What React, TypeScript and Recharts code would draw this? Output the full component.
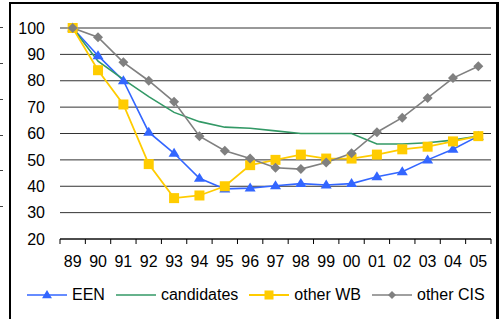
import React from "react"
import {LineChart, Line, XAxis, YAxis, CartesianGrid, Legend} from "recharts"

const years = ["89", "90", "91", "92", "93", "94", "95", "96", "97", "98", "99", "00", "01", "02", "03", "04", "05"]
const een = [100, 89.5, 80, 60.5, 52.5, 43, 39, 39.3, 40.2, 41, 40.5, 41, 43.6, 45.5, 50, 54, 59]
const candidates = [100, 87.4, 80.5, 74, 68, 64.5, 62.4, 62, 61, 60, 60, 60, 56, 56, 56.5, 57.5, 59]
const otherWB = [100, 84, 71, 48.4, 35.5, 36.5, 40, 48, 50, 52, 50.5, 50.5, 52, 54, 55, 57, 59]
const otherCIS = [100, 96.5, 87, 80, 72, 59, 53.5, 50.5, 47, 46.5, 49, 52.5, 60.5, 66, 73.5, 81, 85.5]
const yTicks = [20, 30, 40, 50, 60, 70, 80, 90, 100]

const seriesNames = ["EEN", "candidates", "other WB", "other CIS"]

const data = years.map((y, i) => ({
    year: y,
    "EEN": een[i],
    "candidates": candidates[i],
    "other WB": otherWB[i],
    "other CIS": otherCIS[i],
}))

const W = 500
const H = 319
const LEFT = 60
const RIGHT = 9
const FONT = "'Liberation Sans', Arial, sans-serif"

type Shape = "triangle" | "none" | "square" | "diamond"

const series: {name: string, color: string, shape: Shape, width: number}[] = [
    {name: seriesNames[0], color: "#3366FF", shape: "triangle", width: 1.6},
    {name: seriesNames[1], color: "#339966", shape: "none", width: 1.6},
    {name: seriesNames[2], color: "#FFCC00", shape: "square", width: 1.8},
    {name: seriesNames[3], color: "#808080", shape: "diamond", width: 1.6},
]

const Marker = ({shape, cx, cy, color, s = 1}: {shape: Shape, cx: number, cy: number, color: string, s?: number}) => {
    if (shape === "triangle") {
        const pts = `${cx},${cy - 5.5 * s} ${cx + 5.5 * s},${cy + 3.5 * s} ${cx - 5.5 * s},${cy + 3.5 * s}`
        return <polygon points={pts} fill={color} />
    }
    if (shape === "square") {
        return <rect x={cx - 5 * s} y={cy - 5 * s} width={10 * s} height={10 * s} fill={color} />
    }
    if (shape === "diamond") {
        const pts = `${cx},${cy - 5 * s} ${cx + 5 * s},${cy} ${cx},${cy + 5 * s} ${cx - 5 * s},${cy}`
        return <polygon points={pts} fill={color} />
    }
    return null
}

const XTick = (props: any) => {
    const {x, y, payload, index} = props
    const bw = (W - LEFT - RIGHT) / years.length
    return (
        <g>
            <line x1={x - bw / 2} y1={y} x2={x - bw / 2} y2={y + 5} stroke="#000" />
            {index === years.length - 1 && <line x1={x + bw / 2} y1={y} x2={x + bw / 2} y2={y + 5} stroke="#000" />}
            <text x={x} y={y + 28} textAnchor="middle" fontSize={16} fontFamily={FONT} fill="#000">{payload.value}</text>
        </g>
    )
}

const LegendContent = () => (
    <div style={{display: "flex", alignItems: "center", fontFamily: FONT, fontSize: 16, color: "#000"}}>
        {series.map(s => (
            <div key={s.name} style={{display: "flex", alignItems: "center", marginRight: 11}}>
                <svg width={40} height={14}>
                    <line x1={0} y1={7} x2={40} y2={7} stroke={s.color} strokeWidth={s.width} />
                    <Marker shape={s.shape} cx={20} cy={7} color={s.color} s={s.shape === "diamond" ? 0.8 : 0.9} />
                </svg>
                <span style={{marginLeft: 5}}>{s.name}</span>
            </div>
        ))}
    </div>
)

const stubs = [27, 63, 99, 135, 170, 206]

export default function App() {
    return (
        <div style={{position: "fixed", left: 0, top: 0, width: W, height: H, background: "#fff", overflow: "hidden"}}>
            {stubs.map(y => (
                <div key={y} style={{position: "absolute", left: 0, top: y, width: 3, height: 1, background: "#444"}} />
            ))}
            <div style={{position: "absolute", left: 9, top: 2, width: 490, height: 340, boxSizing: "border-box",
                borderLeft: "2px solid #000", borderTop: "2px solid #000", borderRight: "3px solid #000"}} />
            <div style={{position: "absolute", left: 0, top: 0}}>
                <LineChart width={W} height={H} data={data} margin={{top: 28, right: RIGHT, bottom: 50, left: 0}}>
                    <CartesianGrid horizontal={true} vertical={false} stroke="#333" />
                    <XAxis dataKey="year" scale="band" interval={0} height={30} tickLine={false} tickSize={0}
                        tickMargin={0} axisLine={{stroke: "#000"}} tick={<XTick />} />
                    <YAxis domain={[20, 100]} ticks={yTicks} width={LEFT} axisLine={false} tickLine={false}
                        tickSize={0} tickMargin={15} interval={0}
                        tick={{fontSize: 16, fontFamily: FONT, fill: "#000"}} />
                    <Legend layout="horizontal" verticalAlign="middle" align="center" content={<LegendContent />}
                        wrapperStyle={{top: 286, left: 27, width: "auto"}} />
                    {series.map(s => (
                        <Line key={s.name} dataKey={s.name} stroke={s.color} strokeWidth={s.width} type="linear"
                            isAnimationActive={false}
                            dot={(p: any) => <Marker key={`${s.name}-${p.index}`} shape={s.shape} cx={p.cx} cy={p.cy} color={s.color} />}
                            activeDot={false} />
                    ))}
                </LineChart>
            </div>
        </div>
    )
}
